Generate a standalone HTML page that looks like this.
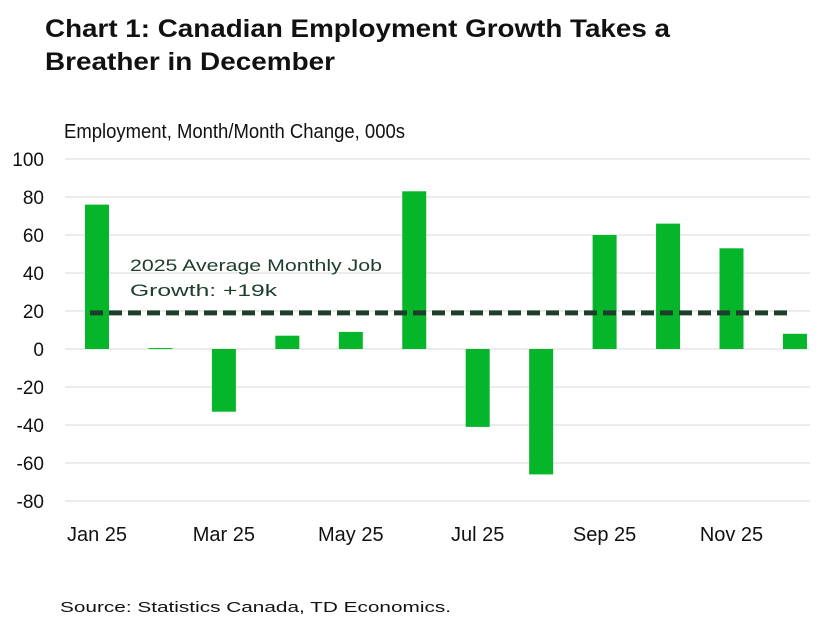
<!DOCTYPE html>
<html><head><meta charset="utf-8"><style>
body{margin:0;background:#fff;font-family:"Liberation Sans",sans-serif;}
svg{display:block}
</style></head><body>
<svg width="827" height="617" viewBox="0 0 827 617">
<text x="45" y="37" font-size="25" font-weight="bold" fill="#111" textLength="625" lengthAdjust="spacingAndGlyphs">Chart 1: Canadian Employment Growth Takes a</text>
<text x="45" y="70" font-size="25" font-weight="bold" fill="#111" textLength="290" lengthAdjust="spacingAndGlyphs">Breather in December</text>
<text x="64" y="138" font-size="20" fill="#111" textLength="341" lengthAdjust="spacingAndGlyphs">Employment, Month/Month Change, 000s</text>
<g id="grid"></g><g id="bars"></g><g id="ticks"></g>
<text x="130" y="271" font-size="17" fill="#1e3d2a" textLength="252" lengthAdjust="spacingAndGlyphs">2025 Average Monthly Job</text>
<text x="130" y="296" font-size="17" fill="#1e3d2a" textLength="147" lengthAdjust="spacingAndGlyphs">Growth: +19k</text>
<text x="60" y="612" font-size="15" fill="#111" textLength="391" lengthAdjust="spacingAndGlyphs">Source: Statistics Canada, TD Economics.</text>
</svg>
<script>
const months=["Jan 25","Feb 25","Mar 25","Apr 25","May 25","Jun 25","Jul 25","Aug 25","Sep 25","Oct 25","Nov 25","Dec 25"];
const values=[76,0.5,-33,7,9,83,-41,-66,60,66,53,8];
const yTicks=[100,80,60,40,20,0,-20,-40,-60,-80];
const xLabels=["Jan 25","Mar 25","May 25","Jul 25","Sep 25","Nov 25"];
const average=[19];
const NS="http://www.w3.org/2000/svg";
const y=v=>349-v*1.9;
const x=i=>97+i*63.45;
function mk(t,a,p){const e=document.createElementNS(NS,t);for(const k in a)e.setAttribute(k,a[k]);p.appendChild(e);return e;}
const g=document.getElementById('grid'),b=document.getElementById('bars'),tk=document.getElementById('ticks');
yTicks.forEach(v=>{
 const l=mk('line',{x1:65,x2:810,y1:y(v),y2:y(v),stroke:'#d9d9d9','stroke-width':1},g);
 
 
 const t=mk('text',{x:44,y:y(v)+7,'font-size':19,'text-anchor':'end',fill:'#111'},tk);
 t.textContent=v;
 
 
});
values.forEach((v,i)=>{
 const r=mk('rect',{x:x(i)-12,y:Math.min(y(v),y(0)),width:24,height:Math.max(Math.abs(y(v)-y(0)),1),fill:'#06b62a'},b);
 
 
});
xLabels.forEach(m=>{
 const i=months.indexOf(m);
 const t=mk('text',{x:x(i),y:541,'font-size':20,'text-anchor':'middle',fill:'#111'},tk);
 t.textContent=m;
 
 
});
const d=mk('line',{x1:90,x2:792,y1:y(average[0]),y2:y(average[0]),stroke:'#1e3d2a','stroke-width':5,'stroke-dasharray':'13,6'},b);


</script>
</body></html>
